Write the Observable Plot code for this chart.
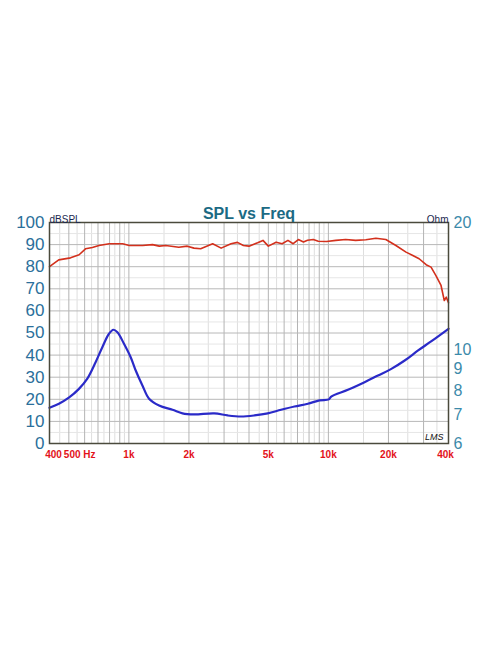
<!DOCTYPE html>
<html><head><meta charset="utf-8">
<script src="https://cdn.jsdelivr.net/npm/d3@7"></script>
<script src="https://cdn.jsdelivr.net/npm/@observablehq/plot@0.6"></script>
<style>body{margin:0;background:#fff;}</style>
</head><body><div id="chart"></div>
<script>
// SPL curve (Hz, dB SPL)
const splFreq = [400,445,510,563,606,656,708,797,931,1004,1171,1313,1420,1529,1779,1962,2120,2290,2630,2900,3250,3500,3750,4000,4420,4700,5000,5470,5860,6270,6660,7070,7500,7860,8400,8900,9800,10900,12200,13700,15400,17300,19400,21800,24500,26500,28500,30900,32700,34600,36700,38100,39000,40000];
const splDb   = [80.0,83.1,84.0,85.4,88.1,88.7,89.6,90.4,90.4,89.6,89.6,90.0,89.3,89.6,88.8,89.3,88.4,88.1,90.4,88.4,90.4,91.0,89.6,89.3,90.8,91.9,89.3,91.1,90.4,91.9,90.4,92.3,91.2,92.0,92.3,91.5,91.4,91.9,92.3,91.9,92.2,92.9,92.3,89.6,86.6,85.1,83.6,80.9,79.8,76.0,71.5,64.7,66.2,63.7];
// Impedance curve (Hz, Ohm)
const impFreq = [400,446,500,562,619,681,736,795,836,876,945,1021,1082,1169,1262,1417,1654,1857,2124,2678,3126,3647,4253,4967,5791,6756,7888,9022,10060,10330,12530,15180,17730,20680,24120,28170,32860,40000];
const impOhm  = [7.29,7.45,7.70,8.08,8.54,9.34,10.14,10.91,11.15,11.0,10.33,9.60,8.93,8.23,7.66,7.38,7.21,7.07,7.03,7.07,6.99,6.95,6.99,7.07,7.21,7.34,7.45,7.59,7.63,7.75,8.04,8.38,8.69,9.01,9.43,9.96,10.48,11.21];

const dbTicks = [0,10,20,30,40,50,60,70,80,90,100];
const dbMinor = [5,15,25,35,45,55,65,75,85,95];
const ohmTicks = [6,7,8,9,10,20];
const xTickValues = [400,500,1000,2000,5000,10000,20000,40000];
const xTickLabels = ["400","500 Hz","1k","2k","5k","10k","20k","40k"];
const title = "SPL vs Freq";
const leftUnit = "dBSPL";
const rightUnit = "Ohm";
const logo = "LMS";

const OHM_MIN = 6, OHM_MAX = 20;
const ohmToY = z => 100 * Math.log(z / OHM_MIN) / Math.log(OHM_MAX / OHM_MIN);
const yToOhm = y => OHM_MIN * Math.pow(OHM_MAX / OHM_MIN, y / 100);

const majorX = [], minorX = [];
for (const dec of [100, 1000, 10000]) {
  for (let k = 1; k <= 9; k++) {
    const v = k * dec, m = (k + 0.5) * dec;
    if (v >= 400 && v <= 40000) majorX.push(v);
    if (m > 400 && m < 40000) minorX.push(m);
  }
}

const spl = splFreq.map((f, i) => ({f, v: splDb[i]}));
const imp = impFreq.map((f, i) => ({f, v: ohmToY(impOhm[i])}));
const xt = xTickValues.map((v, i) => ({v, label: xTickLabels[i]}));

const font = "'Liberation Sans', Arial, sans-serif";
const xLabelOpts = {frameAnchor: "bottom", lineAnchor: "middle", dy: 11, fontSize: 10, fontWeight: "bold", fill: "#e3121a"};

const svg = Plot.plot({
  width: 496, height: 664,
  marginTop: 222, marginBottom: 221, marginLeft: 49, marginRight: 48,
  x: {type: "log", domain: [400, 40000], axis: null},
  y: {domain: [0, 100], axis: null},
  style: {fontFamily: font, background: "#fff"},
  marks: [
    Plot.ruleX(minorX, {stroke: "#dedede", strokeWidth: 1}),
    Plot.ruleY(dbMinor, {stroke: "#e6e6e6", strokeWidth: 1}),
    Plot.ruleX(majorX, {stroke: "#b4b4b4", strokeWidth: 1}),
    Plot.ruleY(dbTicks, {stroke: "#b8b8b8", strokeWidth: 1}),
    Plot.line(imp, {x: "f", y: "v", stroke: "#2a2ac8", strokeWidth: 2.2, curve: "catmull-rom"}),
    Plot.line(spl, {x: "f", y: "v", stroke: "#d3301c", strokeWidth: 1.6}),
    Plot.frame({stroke: "#4a4a3c", strokeWidth: 1.5}),
    Plot.axisY(dbTicks, {anchor: "left", tickSize: 0, tickPadding: 5, fontSize: 17, color: "#2b6f9b", label: null}),
    Plot.axisY(ohmTicks.map(ohmToY), {anchor: "right", tickSize: 0, tickPadding: 5, fontSize: 16, color: "#3b8aaa", label: null,
      tickFormat: y => String(Math.round(yToOhm(y)))}),
    Plot.text(xt.filter(d => d.label !== "500 Hz"), {x: "v", text: "label", ...xLabelOpts}),
    Plot.text(xt.filter(d => d.label === "500 Hz"), {x: "v", text: "label", dx: -5, textAnchor: "start", ...xLabelOpts}),
    Plot.text([title], {frameAnchor: "top", lineAnchor: "bottom", dy: -4, fontSize: 16, fontWeight: "bold", fill: "#1b6a84", ariaLabel: "title"}),
    Plot.text([leftUnit], {frameAnchor: "top-left", lineAnchor: "bottom", dy: 0, textAnchor: "start", fontSize: 10, fill: "#1c2850"}),
    Plot.text([rightUnit], {frameAnchor: "top-right", lineAnchor: "bottom", dy: 0, textAnchor: "end", fontSize: 10, fill: "#1c2850"}),
    Plot.text([logo], {frameAnchor: "bottom-right", lineAnchor: "bottom", dx: -5, dy: -4, textAnchor: "end", fontSize: 9, fontStyle: "italic", fill: "#111"})
  ]
});
d3.select(svg).selectAll('g[aria-label="title"] text').style("text-decoration", "underline");
// nudge the end frequency labels inward, as in the reference
d3.select(svg).selectAll('g[aria-label="text"] text').each(function() {
  if (this.textContent === "40k") this.setAttribute("dx", -3);
  if (this.textContent === "400") this.setAttribute("dx", 4);
});
document.getElementById("chart").appendChild(svg);
</script></body></html>
